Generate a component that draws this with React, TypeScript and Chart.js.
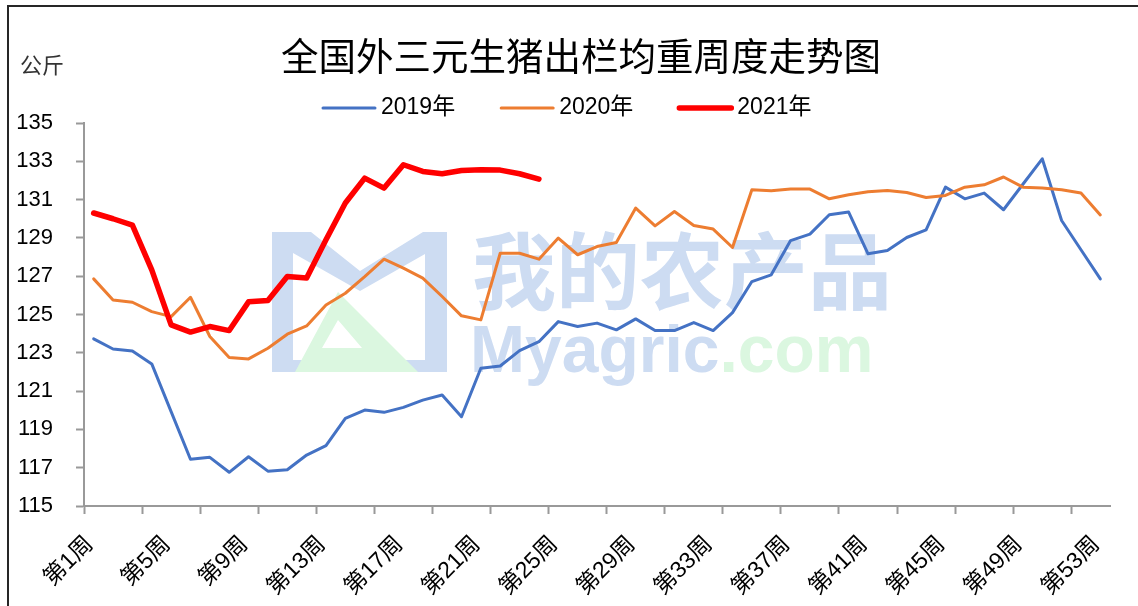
import React, { useEffect, useRef } from 'react';
import { Chart, registerables } from 'chart.js';

Chart.register(...registerables);

const weeks = [
  '第1周', '第2周', '第3周', '第4周', '第5周', '第6周', '第7周', '第8周', '第9周', '第10周',
  '第11周', '第12周', '第13周', '第14周', '第15周', '第16周', '第17周', '第18周', '第19周', '第20周',
  '第21周', '第22周', '第23周', '第24周', '第25周', '第26周', '第27周', '第28周', '第29周', '第30周',
  '第31周', '第32周', '第33周', '第34周', '第35周', '第36周', '第37周', '第38周', '第39周', '第40周',
  '第41周', '第42周', '第43周', '第44周', '第45周', '第46周', '第47周', '第48周', '第49周', '第50周',
  '第51周', '第52周', '第53周',
];

const y2019 = [
  123.73, 123.2, 123.1, 122.42, 119.93, 117.44, 117.54, 116.76, 117.57, 116.82,
  116.89, 117.66, 118.15, 119.58, 120.01, 119.89, 120.15, 120.53, 120.8, 119.66,
  122.19, 122.31, 123.11, 123.58, 124.63, 124.37, 124.55, 124.2, 124.77, 124.16,
  124.16, 124.58, 124.16, 125.1, 126.72, 127.07, 128.86, 129.2, 130.21, 130.35,
  128.17, 128.34, 129.02, 129.42, 131.65, 131.04, 131.34, 130.47, 131.8, 133.13,
  129.91, 128.38, 126.86,
];

const y2020 = [
  126.86, 125.76, 125.64, 125.15, 124.89, 125.9, 123.85, 122.75, 122.68, 123.24,
  123.97, 124.4, 125.5, 126.11, 126.98, 127.89, 127.42, 126.9, 125.94, 124.93,
  124.72, 128.2, 128.2, 127.89, 128.99, 128.12, 128.55, 128.76, 130.56, 129.63,
  130.38, 129.65, 129.46, 128.5, 131.51, 131.46, 131.55, 131.55, 131.04, 131.25,
  131.41, 131.48, 131.37, 131.11, 131.22, 131.65, 131.77, 132.18, 131.65, 131.6,
  131.51, 131.34, 130.2,
];

const y2021 = [
  130.3, 130.0, 129.67, 127.33, 124.46, 124.08, 124.37, 124.16, 125.66, 125.73,
  126.98, 126.9, 128.9, 130.82, 132.12, 131.6, 132.82, 132.47, 132.35, 132.52,
  132.56, 132.54, 132.35, 132.07,
];

const seriesNames = ['2019年', '2020年', '2021年'];
const seriesColors = ['#4472C4', '#ED7D31', '#FF0000'];
const seriesWidths = [3, 3, 5.5];

const titleText = '全国外三元生猪出栏均重周度走势图';
const unitText = '公斤';
const watermarkCn = '我的农产品';
const watermarkEn = 'Myagric';
const watermarkEnTail = '.com';

const AXIS = '#999999';
const WM_BLUE = '#cddcf2';
const WM_GREEN = '#dbf7e0';
const LATIN = '"Liberation Sans", "Noto Sans CJK SC", sans-serif';
const CJK = '"Noto Sans CJK SC", "Liberation Sans", sans-serif';

const decorPlugin = {
  id: 'decor',
  beforeDatasetsDraw(chart: any) {
    const ctx = chart.ctx as CanvasRenderingContext2D;
    ctx.save();
    // watermark icon (blue M frame)
    ctx.fillStyle = WM_BLUE;
    ctx.beginPath();
    ctx.moveTo(272, 232);
    ctx.lineTo(311, 232);
    ctx.lineTo(360, 271);
    ctx.lineTo(423, 232);
    ctx.lineTo(447, 232);
    ctx.lineTo(447, 372);
    ctx.lineTo(272, 372);
    ctx.closePath();
    ctx.moveTo(293, 253);
    ctx.lineTo(293, 360);
    ctx.lineTo(425, 360);
    ctx.lineTo(425, 254);
    ctx.lineTo(360, 291);
    ctx.closePath();
    ctx.fill('evenodd');
    // green A
    ctx.fillStyle = WM_GREEN;
    ctx.beginPath();
    ctx.moveTo(295, 372);
    ctx.lineTo(338, 292);
    ctx.lineTo(418, 372);
    ctx.closePath();
    ctx.moveTo(322, 348);
    ctx.lineTo(338, 320);
    ctx.lineTo(362, 348);
    ctx.closePath();
    ctx.fill('evenodd');
    // watermark text
    ctx.textBaseline = 'alphabetic';
    ctx.textAlign = 'left';
    ctx.fillStyle = WM_BLUE;
    ctx.font = `bold 84px ${CJK}`;
    ctx.fillText(watermarkCn, 472, 303);
    ctx.font = `bold 66px ${LATIN}`;
    ctx.fillText(watermarkEn, 470, 372);
    const w = ctx.measureText(watermarkEn).width;
    ctx.fillStyle = WM_GREEN;
    ctx.fillText(watermarkEnTail, 470 + w, 372);
    ctx.restore();
  },
  afterDraw(chart: any) {
    const ctx = chart.ctx as CanvasRenderingContext2D;
    ctx.save();
    // frame
    ctx.strokeStyle = '#262626';
    ctx.lineWidth = 2;
    ctx.beginPath();
    ctx.moveTo(8, 606);
    ctx.lineTo(8, 6);
    ctx.lineTo(1138, 6);
    ctx.stroke();
    // title
    ctx.fillStyle = '#000';
    ctx.textAlign = 'center';
    ctx.textBaseline = 'middle';
    ctx.font = `37.5px ${CJK}`;
    ctx.fillText(titleText, 581, 56);
    // unit
    ctx.textAlign = 'left';
    ctx.font = `22px ${CJK}`;
    ctx.fillStyle = '#333';
    ctx.fillText(unitText, 20, 65);
    // legend
    ctx.font = `23px ${LATIN}`;
    ctx.fillStyle = '#000';
    let x = 323;
    const ly = 108;
    seriesNames.forEach((name, i) => {
      ctx.strokeStyle = seriesColors[i];
      ctx.lineWidth = seriesWidths[i];
      ctx.lineCap = 'round';
      ctx.beginPath();
      ctx.moveTo(x, ly);
      ctx.lineTo(x + 52, ly);
      ctx.stroke();
      x += 58;
      ctx.fillText(name, x, ly);
      x += ctx.measureText(name).width + 46;
    });
    ctx.restore();
  },
};

export default function App() {
  const ref = useRef<HTMLCanvasElement | null>(null);

  useEffect(() => {
    const canvas = ref.current;
    if (!canvas) return;
    const series = [y2019, y2020, y2021];
    const chart = new Chart(canvas, {
      type: 'line',
      data: {
        labels: weeks,
        datasets: series.map((d, i) => ({
          label: seriesNames[i],
          data: d,
          borderColor: seriesColors[i],
          backgroundColor: seriesColors[i],
          borderWidth: seriesWidths[i],
          pointRadius: 0,
          tension: 0,
          fill: false,
          borderJoinStyle: 'round',
          borderCapStyle: 'round',
          order: 3 - i,
        })),
      },
      options: {
        responsive: false,
        animation: false,
        layout: { padding: { top: 123, right: 28, bottom: 0, left: 0 } },
        plugins: {
          legend: { display: false },
          title: { display: false },
          tooltip: { enabled: false },
        },
        scales: {
          x: {
            type: 'category',
            offset: true,
            grid: {
              display: true,
              offset: true,
              drawOnChartArea: false,
              drawTicks: true,
              tickLength: 8,
              tickWidth: 2,
              tickColor: (c: any) => (c.index % 3 === 0 ? AXIS : 'rgba(0,0,0,0)'),
            },
            border: { display: true, color: AXIS, width: 2 },
            ticks: {
              autoSkip: false,
              maxRotation: 45,
              minRotation: 45,
              padding: 17,
              labelOffset: -4,
              color: '#000',
              font: { size: 23, family: LATIN },
              callback: (_v: any, i: number) => (i % 4 === 0 ? weeks[i] : ''),
            },
            afterFit: (s: any) => {
              s.height = 100;
            },
          },
          y: {
            min: 115,
            max: 135,
            ticks: {
              stepSize: 2,
              padding: 23,
              color: '#000',
              font: { size: 22, family: LATIN },
            },
            grid: {
              drawOnChartArea: false,
              drawTicks: true,
              tickLength: 8,
              tickWidth: 2,
              tickColor: AXIS,
            },
            border: { display: true, color: AXIS, width: 2 },
            afterFit: (s: any) => {
              s.width = 84;
            },
          },
        },
      },
      plugins: [decorPlugin],
    } as any);
    return () => chart.destroy();
  }, []);

  return (
    <div style={{ position: 'absolute', left: 0, top: 0, width: 1138, height: 606, background: '#fff' }}>
      <canvas ref={ref} width={1138} height={606} style={{ display: 'block' }} />
    </div>
  );
}
